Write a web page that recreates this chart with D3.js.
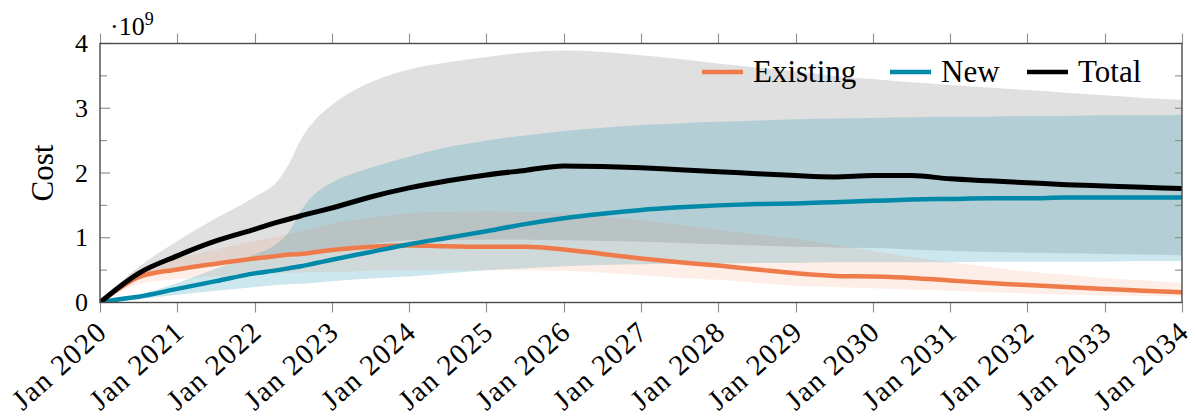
<!DOCTYPE html>
<html>
<head>
<meta charset="utf-8">
<script src="https://cdn.jsdelivr.net/npm/d3@7"></script>
<style>
  html, body { margin: 0; padding: 0; background: #fff; }
  svg { display: block; }
</style>
</head>
<body>
<svg id="chart" width="1196" height="419"></svg>
<script>
// ---------- data ----------
const years = [2020, 2020.25, 2020.5, 2021, 2021.5, 2022, 2022.3, 2022.45, 2022.6, 2022.8,
  2023, 2023.5, 2024, 2024.5, 2025, 2025.5, 2026, 2026.5, 2027, 2027.5, 2028, 2028.5,
  2029, 2029.5, 2030, 2030.5, 2031, 2031.5, 2032, 2032.5, 2033, 2033.5, 2034];

// mean values (·10^9)
const existing = [0, 0.22, 0.39, 0.51, 0.60, 0.68, 0.72, 0.74, 0.75, 0.78,
  0.81, 0.86, 0.88, 0.87, 0.86, 0.86, 0.82, 0.75, 0.68, 0.62, 0.57, 0.51,
  0.45, 0.41, 0.40, 0.38, 0.34, 0.30, 0.27, 0.24, 0.21, 0.18, 0.16];
const newCost = [0, 0.05, 0.09, 0.21, 0.33, 0.45, 0.50, 0.53, 0.56, 0.61,
  0.66, 0.78, 0.90, 1.00, 1.10, 1.21, 1.30, 1.37, 1.43, 1.47, 1.50, 1.52,
  1.53, 1.55, 1.57, 1.59, 1.60, 1.61, 1.61, 1.62, 1.62, 1.62, 1.62];
const total = [0, 0.24, 0.45, 0.72, 0.95, 1.13, 1.24, 1.29, 1.34, 1.40,
  1.46, 1.63, 1.77, 1.88, 1.97, 2.04, 2.11, 2.10, 2.08, 2.05, 2.02, 1.99,
  1.96, 1.94, 1.96, 1.96, 1.91, 1.88, 1.85, 1.82, 1.80, 1.78, 1.76];

// uncertainty bands (lower / upper)
const totalLow = [0, 0.18, 0.38, 0.52, 0.62, 0.70, 0.74, 0.76, 0.78, 0.80,
  0.83, 0.90, 0.96, 0.97, 0.97, 0.97, 0.96, 0.95, 0.94, 0.92, 0.90, 0.88,
  0.86, 0.85, 0.84, 0.82, 0.80, 0.78, 0.77, 0.76, 0.75, 0.74, 0.73];
const totalHigh = [0, 0.30, 0.55, 0.95, 1.30, 1.63, 1.88, 2.15, 2.52, 2.84,
  3.05, 3.40, 3.60, 3.71, 3.79, 3.86, 3.89, 3.87, 3.82, 3.76, 3.69, 3.63,
  3.57, 3.50, 3.45, 3.40, 3.36, 3.32, 3.28, 3.24, 3.20, 3.16, 3.13];
const newLow = [0, 0.02, 0.05, 0.12, 0.18, 0.24, 0.27, 0.28, 0.29, 0.31,
  0.33, 0.37, 0.40, 0.45, 0.50, 0.53, 0.56, 0.58, 0.59, 0.60, 0.60, 0.61,
  0.61, 0.62, 0.62, 0.62, 0.62, 0.63, 0.63, 0.63, 0.63, 0.64, 0.64];
const newHigh = [0, 0.05, 0.12, 0.30, 0.52, 0.74, 0.92, 1.10, 1.42, 1.70,
  1.85, 2.08, 2.25, 2.40, 2.50, 2.58, 2.65, 2.70, 2.74, 2.77, 2.79, 2.81,
  2.83, 2.84, 2.85, 2.86, 2.87, 2.87, 2.88, 2.88, 2.89, 2.89, 2.90];
const existingLow = [0, 0.16, 0.28, 0.36, 0.40, 0.43, 0.45, 0.46, 0.46, 0.47,
  0.47, 0.49, 0.50, 0.50, 0.50, 0.50, 0.49, 0.46, 0.42, 0.38, 0.35, 0.30,
  0.26, 0.24, 0.22, 0.20, 0.18, 0.16, 0.14, 0.12, 0.11, 0.10, 0.09];
const existingHigh = [0, 0.28, 0.47, 0.68, 0.82, 0.95, 1.02, 1.06, 1.10, 1.16,
  1.22, 1.31, 1.38, 1.40, 1.41, 1.40, 1.38, 1.33, 1.27, 1.20, 1.12, 1.05,
  0.98, 0.89, 0.80, 0.70, 0.62, 0.55, 0.48, 0.43, 0.38, 0.34, 0.30];

const xTickYears = [2020, 2021, 2022, 2023, 2024, 2025, 2026, 2027, 2028, 2029, 2030, 2031, 2032, 2033, 2034];
const xTickLabels = xTickYears.map(y => "Jan " + y);
const yTicks = [0, 1, 2, 3, 4];
const yMinorTicks = [0.5, 1.5, 2.5, 3.5];
const seriesNames = ["Existing", "New", "Total"];

// ---------- layout ----------
const FONT = "Liberation Serif";
const colors = { Existing: "#ef7b4b", New: "#0089a8", Total: "#000000" };
const svg = d3.select("#chart").attr("font-family", FONT);
const L = 100, R = 1182, T = 43.5, B = 302.5;
const x = d3.scaleLinear().domain([2020, 2034]).range([L, R]);
const y = d3.scaleLinear().domain([0, 4]).range([B, T]);

svg.append("defs").append("clipPath").attr("id", "plotclip")
  .append("rect").attr("x", L).attr("y", T).attr("width", R - L).attr("height", B - T);

const plot = svg.append("g").attr("clip-path", "url(#plotclip)");

const area = (lo, hi) => d3.area()
  .x((d, i) => x(years[i]))
  .y0((d, i) => y(lo[i]))
  .y1((d, i) => y(hi[i]))
  .curve(d3.curveMonotoneX)(years);

plot.append("path").attr("d", area(totalLow, totalHigh)).attr("fill", "#000").attr("fill-opacity", 0.12);
plot.append("path").attr("d", area(newLow, newHigh)).attr("fill", colors.New).attr("fill-opacity", 0.2);
plot.append("path").attr("d", area(existingLow, existingHigh)).attr("fill", colors.Existing).attr("fill-opacity", 0.13);

const line = vals => d3.line()
  .x((d, i) => x(years[i]))
  .y((d, i) => y(vals[i]))
  .curve(d3.curveMonotoneX)(years);

plot.append("path").attr("d", line(existing)).attr("fill", "none")
  .attr("stroke", colors.Existing).attr("stroke-width", 4.5).attr("stroke-linejoin", "round");
plot.append("path").attr("d", line(newCost)).attr("fill", "none")
  .attr("stroke", colors.New).attr("stroke-width", 4.5).attr("stroke-linejoin", "round");
plot.append("path").attr("d", line(total)).attr("fill", "none")
  .attr("stroke", colors.Total).attr("stroke-width", 5).attr("stroke-linejoin", "round");

// legend (no frame)
const legendY = 72;
const legendItems = [
  { name: seriesNames[0], x0: 702 },
  { name: seriesNames[1], x0: 890 },
  { name: seriesNames[2], x0: 1027 }
];
const lg = svg.append("g");
legendItems.forEach(it => {
  lg.append("line").attr("x1", it.x0).attr("x2", it.x0 + 41)
    .attr("y1", legendY).attr("y2", legendY)
    .attr("stroke", colors[it.name]).attr("stroke-width", 4.5);
  lg.append("text").attr("x", it.x0 + 51).attr("y", legendY + 10)
    .attr("font-family", FONT).attr("font-size", 31).text(it.name);
});

// ---------- axes ----------
const tickColor = "#8c8c8c";
const frameColor = "#4a4a4a";
const ax = svg.append("g");

xTickYears.forEach(yr => {
  const px = Math.round(x(yr)) + 0.5;
  ax.append("line").attr("x1", px).attr("x2", px).attr("y1", B).attr("y2", B + 10)
    .attr("stroke", tickColor).attr("stroke-width", 1.1);
  ax.append("line").attr("x1", px).attr("x2", px).attr("y1", T).attr("y2", T - 10)
    .attr("stroke", tickColor).attr("stroke-width", 1.1);
});
yTicks.concat(yMinorTicks).forEach(v => {
  const py = y(v);
  const len = yTicks.includes(v) ? 10 : 7;
  ax.append("line").attr("x1", L).attr("x2", L + len).attr("y1", py).attr("y2", py)
    .attr("stroke", tickColor).attr("stroke-width", 1.1);
  ax.append("line").attr("x1", R).attr("x2", R - 7).attr("y1", py).attr("y2", py)
    .attr("stroke", tickColor).attr("stroke-width", 1.1);
});

ax.append("rect").attr("x", L).attr("y", T).attr("width", R - L).attr("height", B - T)
  .attr("fill", "none").attr("stroke", frameColor).attr("stroke-width", 1.4);

yTicks.forEach(v => {
  ax.append("text").attr("x", L - 12).attr("y", y(v)).attr("dy", "0.33em")
    .attr("text-anchor", "end").attr("font-family", FONT).attr("font-size", 26)
    .text(d3.format("d")(v));
});

xTickYears.forEach((yr, i) => {
  const px = x(yr), py = 334;
  ax.append("text")
    .attr("transform", `translate(${px + 9},${py}) rotate(-42)`)
    .attr("text-anchor", "end")
    .attr("font-family", FONT).attr("font-size", 29).attr("letter-spacing", 1.5)
    .text(xTickLabels[i]);
});

ax.append("text").attr("transform", `translate(53,${(T + B) / 2}) rotate(-90)`)
  .attr("text-anchor", "middle").attr("font-family", FONT).attr("font-size", 31).text("Cost");

const sf = ax.append("text").attr("x", 110).attr("y", 35)
  .attr("font-family", FONT).attr("font-size", 26);
sf.append("tspan").text("·10");
sf.append("tspan").attr("font-size", 18).attr("dy", -10).text("9");
</script>
</body>
</html>
